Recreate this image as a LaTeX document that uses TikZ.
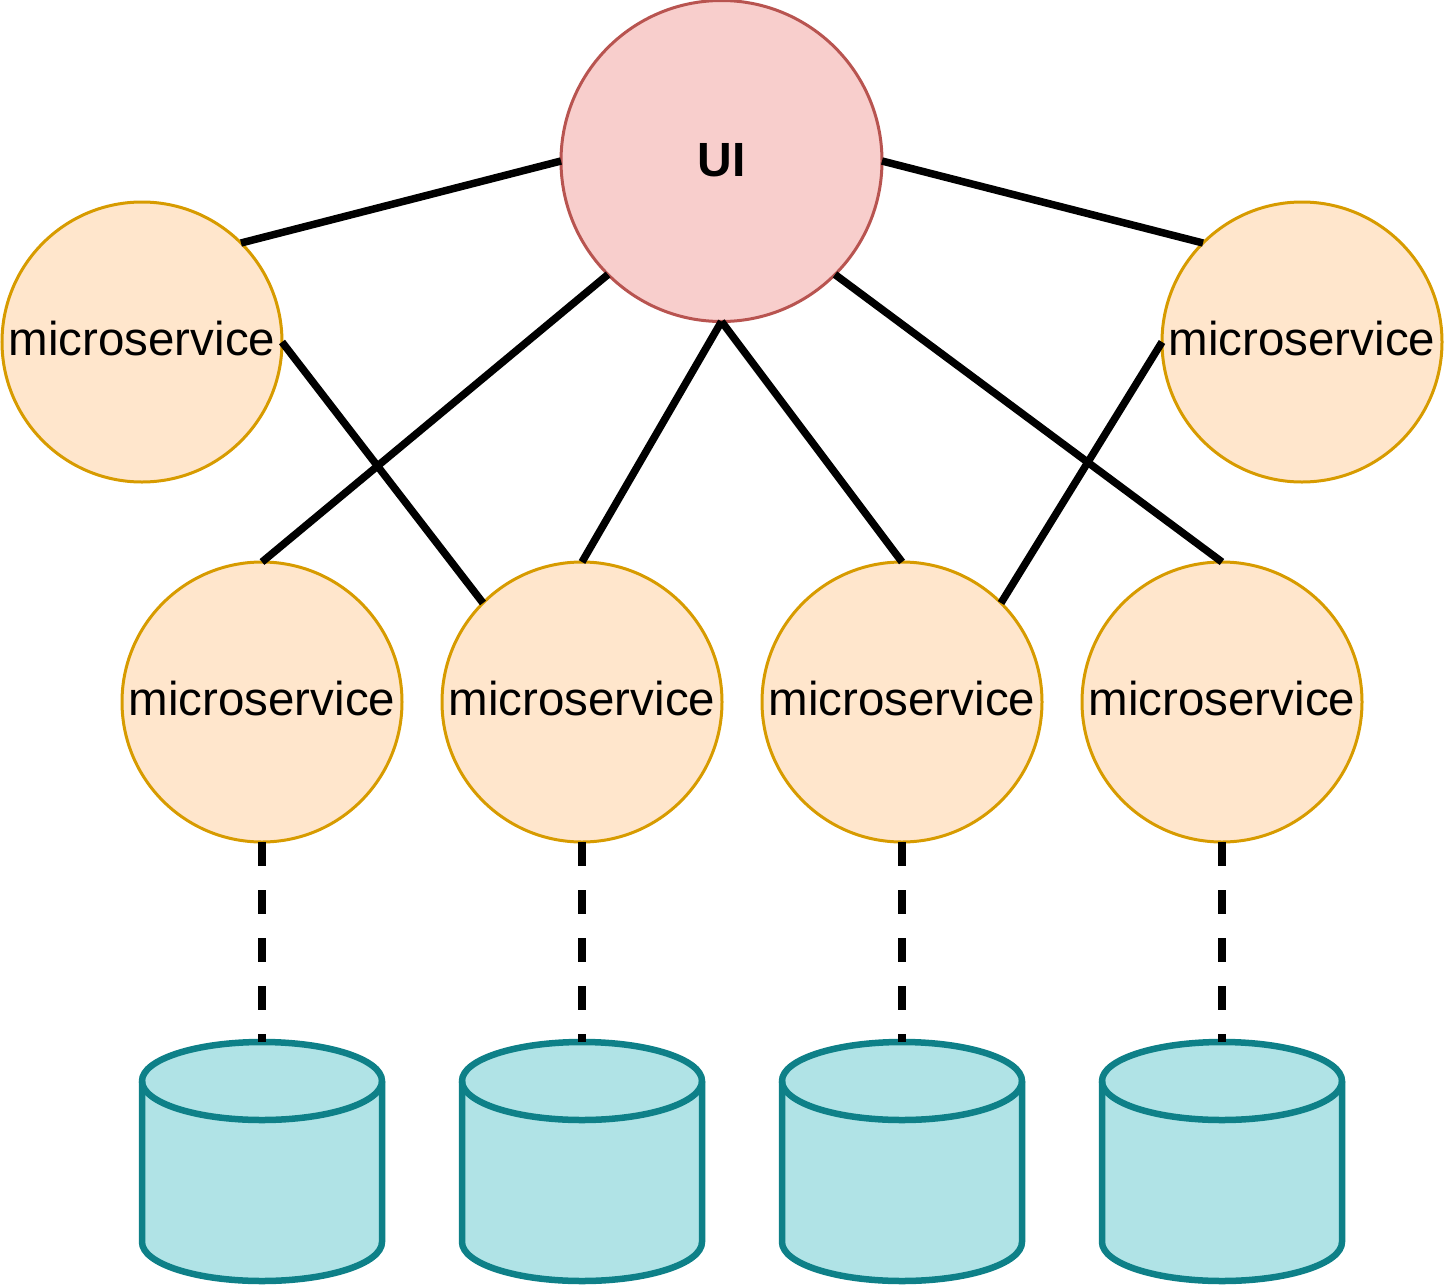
\documentclass[tikz,border=0pt]{standalone}
\usepackage{fontspec}
\setmainfont{Liberation Sans}
\definecolor{uifill}{HTML}{F8CECC}
\definecolor{uidraw}{HTML}{B85450}
\definecolor{msfill}{HTML}{FFE6CC}
\definecolor{msdraw}{HTML}{D79B00}
\definecolor{dbfill}{HTML}{B0E3E6}
\definecolor{dbdraw}{HTML}{0E8088}
\begin{document}
\begin{tikzpicture}[x=1pt,y=-1pt,
 ui/.style={circle, fill=uifill, draw=uidraw, line width=3pt, minimum size=321pt, inner sep=0pt, outer sep=0pt, text depth=3pt, font=\fontsize{48}{56}\selectfont\bfseries},
 ms/.style={circle, fill=msfill, draw=msdraw, line width=3pt, minimum size=280pt, inner sep=0pt, outer sep=0pt, text depth=7pt, font=\fontsize{47.5}{56}\selectfont},
 link/.style={line width=7.5pt},
 dbl/.style={line width=8pt, dash pattern=on 24pt off 24pt},
 db/.style={minimum width=240pt, minimum height=239pt, inner sep=0pt, outer sep=0pt},
 dbshape/.style={fill=dbfill, draw=dbdraw, line width=6.5pt, line join=round}
]
\useasboundingbox (0,0) rectangle (1444,1288);

\node[ui] (ui) at (721.5,161) {UI};
\node[ms] (tl) at (142,342) {microservice};
\node[ms] (tr) at (1302,342) {microservice};
\node[ms] (b1) at (262,702) {microservice};
\node[ms] (b2) at (582,702) {microservice};
\node[ms] (b3) at (902,702) {microservice};
\node[ms] (b4) at (1222,702) {microservice};

\foreach \n/\cx in {1/262,2/582,3/902,4/1222} {
  \node[db] (d\n) at (\cx,1161.5) {};
  \draw[dbshape] (\cx-120,1081) -- (\cx-120,1242)
     arc[start angle=180,end angle=360,x radius=120pt,y radius=39pt]
     -- (\cx+120,1081)
     arc[start angle=0,end angle=180,x radius=120pt,y radius=39pt] -- cycle;
  \draw[dbshape, fill=none] (\cx-120,1081)
     arc[start angle=180,end angle=360,x radius=120pt,y radius=39pt];
}

\draw[link] (ui.west) -- (tl.north east);
\draw[link] (ui.east) -- (tr.north west);
\draw[link] (ui.south west) -- (b1.north);
\draw[link] (ui.south) -- (b2.north);
\draw[link] (ui.south) -- (b3.north);
\draw[link] (ui.south east) -- (b4.north);
\draw[link] (tl.east) -- (b2.north west);
\draw[link] (tr.west) -- (b3.north east);

\draw[dbl] (b1.south) -- (d1.north);
\draw[dbl] (b2.south) -- (d2.north);
\draw[dbl] (b3.south) -- (d3.north);
\draw[dbl] (b4.south) -- (d4.north);
\end{tikzpicture}
\end{document}
